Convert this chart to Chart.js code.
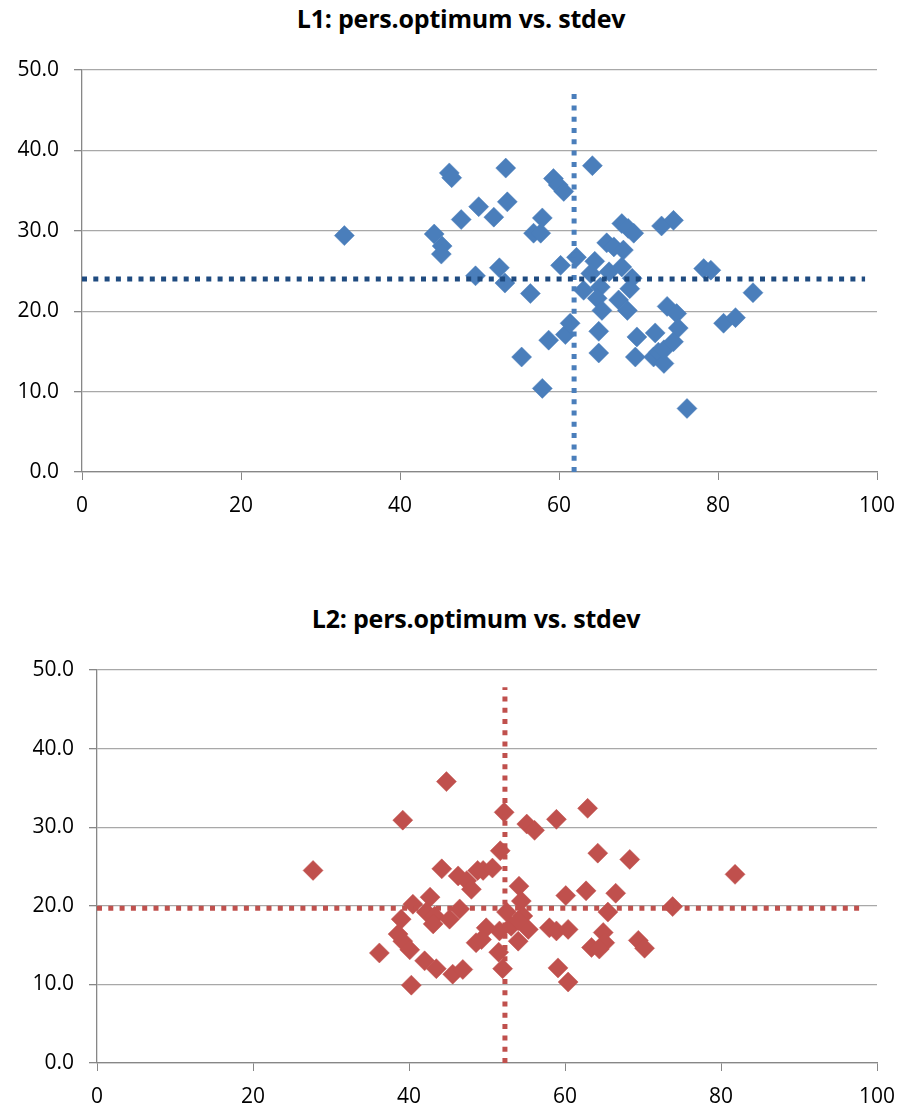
<!DOCTYPE html>
<html>
<head>
<meta charset="utf-8">
<script src="https://cdn.jsdelivr.net/npm/chart.js@4.4.1/dist/chart.umd.min.js"></script>
<style>
  body { margin: 0; background: #fff; width: 902px; height: 1109px; position: relative; overflow: hidden; }
  .title { position: absolute; font-family: "Open Sans", sans-serif; font-weight: bold; font-size: 25px; letter-spacing: -0.2px; color: #000; white-space: nowrap; transform: translateX(-50%); }
  canvas { position: absolute; left: 0; }
</style>
</head>
<body>
<div class="title" id="t1" style="left:461px; top:1px;">L1: pers.optimum vs. stdev</div>
<canvas id="l1" width="902" height="467" style="top:55px;"></canvas>
<div class="title" id="t2" style="left:476px; top:601px;">L2: pers.optimum vs. stdev</div>
<canvas id="l2" width="902" height="463" style="top:650px;"></canvas>
<script>
// L1 scatter: personal optimum (x) vs stdev (y)
const l1X = [33.0, 44.3, 45.3, 45.2, 46.2, 46.5, 47.7, 49.5, 49.9, 51.8, 52.5, 53.2, 53.3, 53.5, 55.3, 56.4, 56.8, 57.7, 57.9, 57.9,
  58.7, 59.3, 59.9, 60.6, 60.2, 60.8, 61.4, 62.2, 63.1, 64.2, 64.5, 64.0, 65.2, 64.8, 65.4, 65.0, 65.0, 66.3, 66.0, 66.9,
  67.9, 68.1, 67.9, 68.7, 69.4, 69.2, 67.5, 68.9, 68.6, 69.8, 69.6, 72.1, 71.9, 72.5, 73.2, 73.2, 73.6, 74.8, 75.0, 74.4,
  72.9, 74.4, 78.2, 79.1, 84.4, 80.7, 82.2, 76.1];
const l1Y = [29.4, 29.6, 28.1, 27.1, 37.2, 36.6, 31.4, 24.4, 33.0, 31.7, 25.4, 23.5, 37.8, 33.6, 14.3, 22.2, 29.7, 29.7, 31.6, 10.4,
  16.4, 36.5, 35.7, 34.9, 25.7, 17.1, 18.5, 26.7, 22.6, 38.1, 26.2, 24.7, 23.0, 21.6, 20.1, 17.5, 14.8, 24.9, 28.5, 28.0,
  25.5, 27.6, 30.9, 30.3, 29.7, 24.1, 21.4, 22.8, 20.1, 16.8, 14.3, 17.3, 14.3, 14.9, 13.5, 15.2, 20.6, 19.7, 17.9, 16.2,
  30.6, 31.3, 25.3, 25.1, 22.3, 18.5, 19.2, 7.9];
const l1MeanX = 61.9;
const l1MeanY = 24.0;

// L2 scatter
const l2X = [44.8, 39.2, 27.7, 44.2, 46.3, 47.4, 48.0, 48.8, 40.5, 42.7, 42.2, 43.3, 43.1, 45.2, 46.5, 39.0, 38.6, 39.2, 40.1, 36.2,
  42.0, 43.5, 45.6, 46.9, 40.3, 48.6, 52.2, 55.1, 56.1, 58.9, 62.9, 64.2, 68.3, 51.7, 49.5, 50.7, 54.1, 54.4, 60.1, 62.7,
  66.5, 65.5, 52.5, 54.6, 53.1, 55.3, 54.0, 51.6, 49.9, 49.3, 54.0, 58.0, 58.9, 60.4, 64.9, 65.1, 63.4, 51.5, 52.0, 59.1,
  60.4, 81.8, 73.8, 69.4, 70.2, 64.4];
const l2Y = [35.8, 30.9, 24.5, 24.7, 23.8, 23.2, 22.1, 24.5, 20.2, 21.1, 19.2, 18.7, 17.7, 18.3, 19.6, 18.3, 16.4, 15.5, 14.4, 14.0,
  13.0, 12.0, 11.3, 11.9, 9.9, 15.3, 31.9, 30.4, 29.6, 31.0, 32.4, 26.7, 25.9, 27.0, 24.5, 24.8, 22.5, 20.6, 21.3, 21.9,
  21.6, 19.2, 19.2, 18.7, 17.4, 17.0, 18.1, 16.8, 17.2, 15.7, 15.5, 17.2, 16.8, 17.0, 16.6, 15.3, 14.7, 14.1, 12.0, 12.1,
  10.3, 24.0, 19.9, 15.6, 14.6, 14.5];
const l2MeanX = 52.3;
const l2MeanY = 19.7;

// dotted guide lines stop short of the axis ends
const lineTop = 47.8;
const lineRight = 98.5;

const xTicks = [0, 20, 40, 60, 80, 100];
const yTicks = [0, 10, 20, 30, 40, 50];

const toPoints = (xs, ys) => xs.map((x, i) => ({ x: x, y: ys[i] }));

const dotted = (data, color) => ({
  data: data,
  showLine: true,
  borderColor: color,
  borderWidth: 5,
  borderDash: [5, 6.3],
  borderCapStyle: 'butt',
  pointRadius: 0,
  pointHoverRadius: 0,
  fill: false
});

const createChart = (id, xs, ys, meanX, meanY, markerColor, hColor, vColor, axisWidth, padTop) => {
  const ctx = document.getElementById(id);
  return new Chart(ctx, {
    type: 'scatter',
    data: {
      datasets: [
        dotted([{ x: 0, y: meanY }, { x: lineRight, y: meanY }], hColor),
        dotted([{ x: meanX, y: 0 }, { x: meanX, y: lineTop }], vColor),
        {
          data: toPoints(xs, ys),
          pointStyle: 'rectRot',
          pointRadius: 10,
          pointHoverRadius: 10,
          backgroundColor: markerColor,
          borderColor: markerColor,
          borderWidth: 0.5
        }
      ]
    },
    options: {
      responsive: false,
      animation: false,
      layout: { padding: { top: padTop, right: 25, left: 0, bottom: 0 } },
      plugins: { legend: { display: false }, tooltip: { enabled: false } },
      scales: {
        x: {
          type: 'linear',
          min: 0, max: 100,
          afterBuildTicks: s => { s.ticks = xTicks.map(v => ({ value: v })); },
          afterFit: s => { s.height = 50; s.paddingLeft = 0; s.paddingRight = 0; },
          grid: { color: 'rgba(0,0,0,0)', tickColor: '#878787', tickLength: 8, lineWidth: 1 },
          border: { color: '#878787', width: 1.3 },
          ticks: { color: '#000', padding: 13, font: { family: 'Open Sans', size: 21 } }
        },
        y: {
          type: 'linear',
          min: 0, max: 50,
          afterBuildTicks: s => { s.ticks = yTicks.map(v => ({ value: v })); },
          afterFit: s => { s.width = axisWidth; s.paddingTop = 0; s.paddingBottom = 0; },
          grid: { color: '#a8a8a8', tickColor: '#878787', tickLength: 8, lineWidth: 1.3 },
          border: { color: '#878787', width: 1.3 },
          ticks: { color: '#000', padding: 15, font: { family: 'Open Sans', size: 21 }, callback: v => v.toFixed(1) }
        }
      }
    }
  });
};

createChart('l1', l1X, l1Y, l1MeanX, l1MeanY, '#4a7ebb', '#1f4b80', '#4a7ebb', 82, 15);
createChart('l2', l2X, l2Y, l2MeanX, l2MeanY, '#c0504d', '#c0504d', '#c0504d', 97, 20);
</script>
</body>
</html>
